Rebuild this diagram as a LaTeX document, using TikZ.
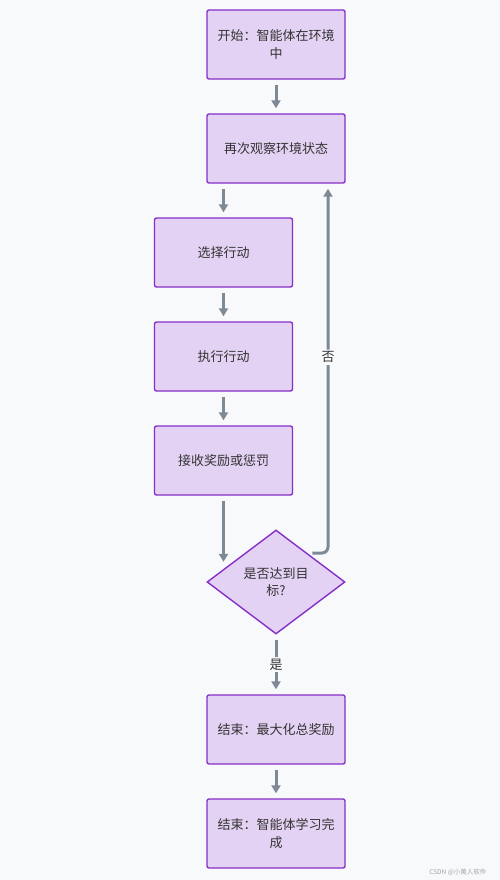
\documentclass[tikz,border=0pt]{standalone}
\usepackage{fontspec}
\setmainfont{Noto Sans CJK SC}
\usetikzlibrary{shapes.geometric,arrows.meta,calc}
\definecolor{bgc}{HTML}{F8F9FB}
\definecolor{boxfill}{HTML}{E4D2F4}
\definecolor{boxline}{HTML}{8530C8}
\definecolor{arrc}{HTML}{7D8A96}
\definecolor{txtc}{HTML}{333333}
\tikzset{
  stepbox/.style={draw=boxline, fill=boxfill, line width=1.4pt, rounded corners=2pt,
    minimum width=138pt, minimum height=69pt, inner sep=0pt, align=center,
    text=txtc, font=\fontsize{13pt}{17.5pt}\selectfont},
  decide/.style={diamond, draw=boxline, fill=boxfill, line width=1.4pt, aspect=1.33,
    minimum width=138pt, minimum height=104pt, inner sep=0pt, align=center,
    text=txtc, font=\fontsize{13pt}{17.5pt}\selectfont},
  arr/.style={draw=arrc, line width=3pt, -{Triangle[length=8pt,width=9pt]},
    shorten <=5pt, shorten >=5pt},
  lbl/.style={fill=bgc, text=txtc, inner sep=2pt, font=\fontsize{13pt}{15pt}\selectfont}
}
\begin{document}
\begin{tikzpicture}[x=1pt,y=-1pt]
\fill[bgc] (0,0) rectangle (500,880);
\useasboundingbox (0,0) rectangle (500,880);
\node[stepbox] (n1) at (276,44.5) {开始：智能体在环境\\中};
\node[stepbox] (n2) at (276,148.5) {再次观察环境状态};
\node[stepbox] (n3) at (223.5,252.5) {选择行动};
\node[stepbox] (n4) at (223.5,356.5) {执行行动};
\node[stepbox] (n5) at (223.5,460.5) {接收奖励或惩罚};
\node[decide] (d) at (276,582) {是否达到目\\标?};
\node[stepbox] (n6) at (276,729.5) {结束：最大化总奖励};
\node[stepbox] (n7) at (276,833.5) {结束：智能体学习完\\成};
\draw[arr] (n1) -- (n2);
\draw[arr] (n2.south -| n3.north) -- (n3.north);
\draw[arr] (n3) -- (n4);
\draw[arr] (n4) -- (n5);
\coordinate (dl) at ($(d.west)!0.25!(d.north)$);
\draw[arr, shorten >=7pt] (n5.south) -- (n5.south |- dl);
\coordinate (dr) at ($(d.north)!0.45!(d.east)$);
\draw[arr, rounded corners=6pt] (dr) -| ([xshift=52pt]n2.south) node[lbl, pos=0.765] {否};
\draw[arr] (d) -- node[lbl] {是} (n6);
\draw[arr] (n6) -- (n7);
\node[text=black!35, font=\fontsize{6.5pt}{7pt}\selectfont, anchor=east] (wm) at (490,872.5) {CSDN @小黄人软件};
\end{tikzpicture}
\end{document}
